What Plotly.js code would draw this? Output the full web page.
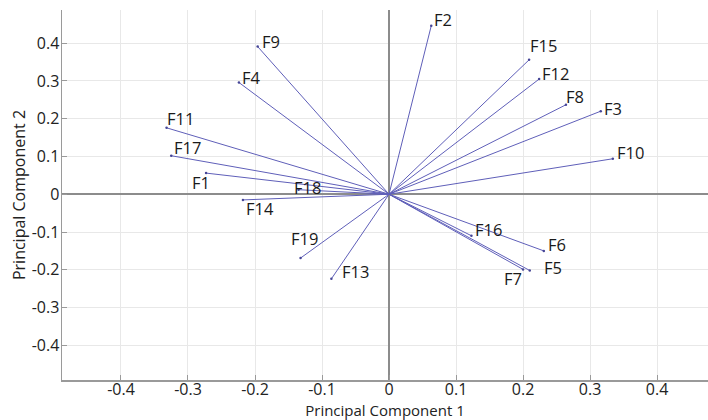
<!DOCTYPE html>
<html>
<head>
<meta charset="utf-8">
<script src="https://cdn.plot.ly/plotly-3.0.1.min.js"></script>
<style>html,body{margin:0;padding:0;background:#fff;}#chart{width:708px;height:420px;}</style>
</head>
<body>
<div id="chart"></div>
<script>
// Variable names
const labels = ["F1","F2","F3","F4","F5","F6","F7","F8","F9","F10","F11","F12","F13","F14","F15","F16","F17","F18","F19"];
// Loadings on Principal Component 1
const pc1 = [-0.273, 0.063, 0.316, -0.224, 0.210, 0.231, 0.200, 0.264, -0.196, 0.334, -0.332, 0.224, -0.086, -0.218, 0.209, 0.123, -0.325, -0.135, -0.132];
// Loadings on Principal Component 2
const pc2 = [0.056, 0.446, 0.220, 0.296, -0.202, -0.150, -0.199, 0.237, 0.391, 0.094, 0.176, 0.305, -0.224, -0.015, 0.356, -0.110, 0.102, 0.012, -0.169];
// Tick values
const xTicks = [-0.4, -0.3, -0.2, -0.1, 0, 0.1, 0.2, 0.3, 0.4];
const yTicks = [-0.4, -0.3, -0.2, -0.1, 0, 0.1, 0.2, 0.3, 0.4];

// label placement offsets (pixels) relative to the vector tip
const labelOffsets = {
  F1:[-5,9], F2:[12,-6], F3:[12,-3], F4:[13,-5], F5:[23,-3], F6:[13,-6], F7:[-10,9],
  F8:[9,-8], F9:[13,-5], F10:[18,-6], F11:[14,-9], F12:[16,-6], F13:[24,-7], F14:[17,9],
  F15:[14,-14], F16:[17,-6], F17:[16,-8], F18:[9,-2], F19:[4,-20]
};

const lx = [], ly = [];
for (let i = 0; i < labels.length; i++) {
  lx.push(0, pc1[i], null);
  ly.push(0, pc2[i], null);
}

const FONT = "Open Sans, Noto Sans, sans-serif";

const traces = [
  {
    type: "scatter", mode: "lines", x: lx, y: ly,
    line: {color: "rgb(95,95,185)", width: 1},
    hoverinfo: "skip", showlegend: false
  },
  {
    type: "scatter", mode: "markers", x: pc1, y: pc2, text: labels,
    marker: {color: "rgb(70,70,150)", size: 2.5},
    showlegend: false
  }
];

const annotations = labels.map((t, i) => ({
  x: pc1[i], y: pc2[i], xref: "x", yref: "y", text: t,
  showarrow: true, arrowcolor: "rgba(0,0,0,0)", arrowwidth: 0.1,
  ax: labelOffsets[t][0], ay: labelOffsets[t][1],
  font: {family: FONT, size: 16.5, color: "#1a1a1a"}
}));

const layout = {
  width: 708, height: 420,
  margin: {l: 62, r: 0, t: 10, b: 40},
  paper_bgcolor: "#fff", plot_bgcolor: "#fff",
  font: {family: FONT, size: 16, color: "#222"},
  xaxis: {
    range: [-0.488, 0.476], tickvals: xTicks, ticktext: xTicks.map(String),
    showgrid: true, gridcolor: "#e8e8e8", gridwidth: 1,
    zeroline: true, zerolinecolor: "#8c8c8c", zerolinewidth: 1.5,
    showline: true, linecolor: "#9a9a9a", linewidth: 1.5,
    ticks: "inside", ticklen: 5, tickcolor: "#9a9a9a",
    ticklabelstandoff: -6,
    tickfont: {family: FONT, size: 16, color: "#222"},
    title: {text: "Principal Component 1", font: {family: FONT, size: 15, color: "#222"}, standoff: 0},
    fixedrange: true
  },
  yaxis: {
    range: [-0.492, 0.488], tickvals: yTicks, ticktext: yTicks.map(String),
    showgrid: true, gridcolor: "#e8e8e8", gridwidth: 1,
    zeroline: true, zerolinecolor: "#8c8c8c", zerolinewidth: 1.5,
    showline: true, linecolor: "#9a9a9a", linewidth: 1.5,
    ticks: "inside", ticklen: 5, tickcolor: "#9a9a9a",
    ticklabelstandoff: -2,
    tickfont: {family: FONT, size: 16, color: "#222"},
    title: {text: "Principal Component 2", font: {family: FONT, size: 16, color: "#222"}, standoff: 2},
    fixedrange: true
  },
  annotations: annotations,
  showlegend: false
};

Plotly.newPlot("chart", traces, layout, {displayModeBar: false, staticPlot: true});
</script>
</body>
</html>
